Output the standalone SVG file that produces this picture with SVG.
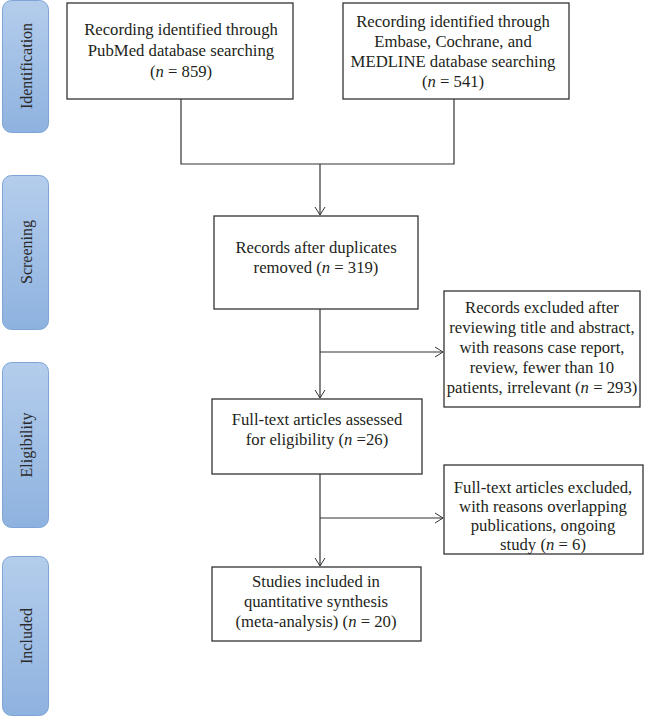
<svg xmlns="http://www.w3.org/2000/svg" width="651" height="717" viewBox="0 0 651 717">
<defs>
<linearGradient id="lg" x1="0" y1="0" x2="0" y2="1">
<stop offset="0" stop-color="#b4cdec"/>
<stop offset="1" stop-color="#8eb2df"/>
</linearGradient>
<marker id="arr" markerUnits="userSpaceOnUse" markerWidth="12" markerHeight="12" viewBox="0 0 12 12" refX="10" refY="6" orient="auto">
<path d="M2,1 L10,6 L2,11" fill="none" stroke="#333" stroke-width="1"/>
</marker>
</defs>
<style>
.lab rect{fill:url(#lg);stroke:#7ea5d6;stroke-width:1}
.lab text{font-family:"Liberation Serif","Times New Roman",serif;font-size:16px;fill:#2a2a2a;text-anchor:middle}
.node rect{fill:#fff;stroke:#333;stroke-width:1.3}
.node text{font-family:"Liberation Serif","Times New Roman",serif;font-size:16.7px;fill:#231f20;text-anchor:middle}
.conn path,.conn line{fill:none;stroke:#333;stroke-width:1.2}
</style>
<rect width="651" height="717" fill="#fff"/>
<g id="label-identification" class="lab"><rect x="2.5" y="0.5" width="46" height="132" rx="9"/><text transform="translate(32,66) rotate(-90)">Identification</text></g>
<g id="label-screening" class="lab"><rect x="2.5" y="175.5" width="46" height="154" rx="9"/><text transform="translate(32,252) rotate(-90)">Screening</text></g>
<g id="label-eligibility" class="lab"><rect x="2.5" y="362.5" width="46" height="165" rx="9"/><text transform="translate(32,445) rotate(-90)">Eligibility</text></g>
<g id="label-included" class="lab"><rect x="2.5" y="556.5" width="46" height="159" rx="9"/><text transform="translate(32,636) rotate(-90)">Included</text></g>

<g class="conn" id="connectors">
<path d="M181,99 V164 H454 V99"/>
<line x1="320" y1="164" x2="320" y2="215" marker-end="url(#arr)"/>
<line x1="320" y1="309" x2="320" y2="398" marker-end="url(#arr)"/>
<line x1="320" y1="352" x2="443" y2="352" marker-end="url(#arr)"/>
<line x1="320" y1="474" x2="320" y2="566" marker-end="url(#arr)"/>
<line x1="320" y1="518" x2="443" y2="518" marker-end="url(#arr)"/>
</g>

<g id="pubmed" class="node"><rect x="67" y="3" width="226" height="96"/>
<text x="181" y="35">Recording identified through</text>
<text x="181" y="56">PubMed database searching</text>
<text x="181" y="77">(<tspan font-style="italic">n</tspan> = 859)</text></g>

<g id="embase" class="node"><rect x="343" y="3" width="226" height="96"/>
<text x="453" y="27">Recording identified through</text>
<text x="453" y="47">Embase, Cochrane, and</text>
<text x="453" y="67">MEDLINE database searching</text>
<text x="453" y="87">(<tspan font-style="italic">n</tspan> = 541)</text></g>

<g id="dedup" class="node"><rect x="214" y="216" width="204" height="93"/>
<text x="316" y="253">Records after duplicates</text>
<text x="316" y="273">removed (<tspan font-style="italic">n</tspan> = 319)</text></g>

<g id="excluded1" class="node"><rect x="444" y="291" width="196" height="116"/>
<text x="542" y="313">Records excluded after</text>
<text x="542" y="333">reviewing title and abstract,</text>
<text x="542" y="353">with reasons case report,</text>
<text x="542" y="373">review, fewer than 10</text>
<text x="542" y="393">patients, irrelevant (<tspan font-style="italic">n</tspan> = 293)</text></g>

<g id="fulltext" class="node"><rect x="212" y="399" width="210" height="75"/>
<text x="317" y="425">Full-text articles assessed</text>
<text x="317" y="445">for eligibility (<tspan font-style="italic">n</tspan> =26)</text></g>

<g id="excluded2" class="node"><rect x="444" y="465" width="199" height="89"/>
<text x="543" y="493">Full-text articles excluded,</text>
<text x="543" y="512">with reasons overlapping</text>
<text x="543" y="531">publications, ongoing</text>
<text x="543" y="550">study (<tspan font-style="italic">n</tspan> = 6)</text></g>

<g id="included" class="node"><rect x="212" y="567" width="209" height="74"/>
<text x="316" y="587">Studies included in</text>
<text x="316" y="607">quantitative synthesis</text>
<text x="316" y="627">(meta-analysis) (<tspan font-style="italic">n</tspan> = 20)</text></g>
</svg>
